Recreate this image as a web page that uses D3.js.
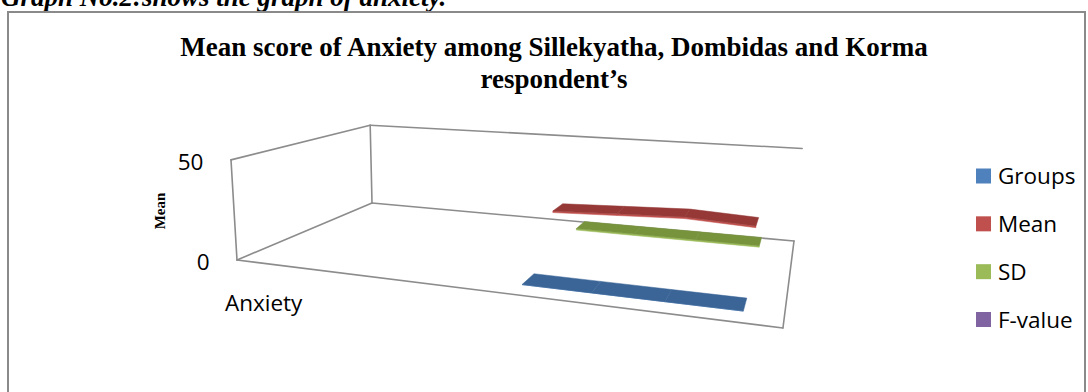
<!DOCTYPE html>
<html>
<head>
<meta charset="utf-8">
<script src="https://cdn.jsdelivr.net/npm/d3@7"></script>
<style>
  html, body { margin: 0; padding: 0; background: #fff; overflow: hidden; }
  svg { display: block; }
</style>
</head>
<body>
<svg id="chart" width="1088" height="392"></svg>
<script>
// ---- data ----
const categories = ["Anxiety", "", "", "", "", "", "", ""];
const seriesNames = ["Groups", "Mean", "SD", "F-value"];
const groupsValues = [null, null, null, null, 0, 0, 0, 0];
const meanValues = [null, null, null, null, 23.9, 25.2, 26.5, 25.1];
const sdValues = [null, null, null, null, 4.0, 4.0, 4.0, 4.0];
const fValues = [null, null, null, null, null, null, null, null];
const yTicks = [0, 50];
const yMax = 50;

const headingText = "Graph No.2:shows the graph of anxiety.";
const titleLines = ["Mean score of Anxiety among Sillekyatha, Dombidas and Korma", "respondent\u2019s"];
const yAxisTitle = "Mean";

// ---- styles ----
const seriesColors = ["#4F81BD", "#C0504D", "#9BBB59", "#8064A2"];
const ribbonColors = ["#3B6596", "#953836", "#77933C", "#5F497A"];
const calibriLike = "'Open Sans', 'Liberation Sans', sans-serif";
const serif = "'Liberation Serif', 'Times New Roman', serif";

const series = seriesNames.map((name, i) => ({
  name,
  values: [groupsValues, meanValues, sdValues, fValues][i],
  color: seriesColors[i],
  ribbon: ribbonColors[i]
}));

const svg = d3.select("#chart");

// ---- perspective camera: (u, z, t) in unit cube -> screen ----
// u: category direction, z: depth (series), t: value fraction of wall height
const cam = [
  [378.4, 246.4, -12.01, 237],
  [-2.2, 3.8, -104.3, 260],
  [-0.214, 0.2994, -0.026, 1]
];
function project(u, z, t) {
  const w = cam[2][0] * u + cam[2][1] * z + cam[2][2] * t + cam[2][3];
  return [
    (cam[0][0] * u + cam[0][1] * z + cam[0][2] * t + cam[0][3]) / w,
    (cam[1][0] * u + cam[1][1] * z + cam[1][2] * t + cam[1][3]) / w
  ];
}

// ---- scales ----
const xScale = d3.scalePoint()
  .domain(d3.range(categories.length))
  .range([0, 1])
  .padding(0.5);

// a 3D line needs at least two points to form a ribbon
const plotted = series.filter(s => s.values.filter(v => v != null).length >= 2);
const zScale = d3.scalePoint()
  .domain(plotted.map(s => s.name))
  .range([0, 1])
  .padding(0.5);

const yScale = d3.scaleLinear().domain([0, yMax]).range([0, 1]);

const ribbonHalfDepth = 0.063;
const ribbonThickness = 0.8; // value units

// ---- outer frame and headings ----
svg.append("text")
  .attr("x", 1)
  .attr("y", 6)
  .attr("font-family", serif)
  .attr("font-weight", "bold")
  .attr("font-style", "italic")
  .attr("font-size", 27)
  .attr("fill", "#000")
  .text(headingText);

svg.append("rect")
  .attr("x", 8)
  .attr("y", 12)
  .attr("width", 1077)
  .attr("height", 400)
  .attr("fill", "none")
  .attr("stroke", "#8a8a8a")
  .attr("stroke-width", 2);

const titleG = svg.append("g")
  .attr("font-family", serif)
  .attr("font-weight", "bold")
  .attr("font-size", 27)
  .attr("text-anchor", "middle")
  .attr("fill", "#000");
titleLines.forEach((line, i) => {
  titleG.append("text")
    .attr("x", 554)
    .attr("y", 56 + i * 32)
    .text(line);
});

// ---- walls and floor outline ----
const c = {
  FLB: project(0, 0, 0), FRB: project(1, 0, 0),
  BLB: project(0, 1, 0), BRB: project(1, 1, 0),
  FLT: project(0, 0, 1), BLT: project(0, 1, 1), BRT: project(1, 1, 1)
};
const edges = [
  ["FLB", "FLT"], ["FLT", "BLT"], ["BLT", "BLB"], ["BLB", "FLB"],
  ["BLT", "BRT"], ["BLB", "BRB"], ["FLB", "FRB"], ["FRB", "BRB"]
];
svg.append("g")
  .selectAll("line")
  .data(edges)
  .join("line")
  .attr("x1", d => c[d[0]][0]).attr("y1", d => c[d[0]][1])
  .attr("x2", d => c[d[1]][0]).attr("y2", d => c[d[1]][1])
  .attr("stroke", "#8c8c8c")
  .attr("stroke-width", 1.6)
  .attr("stroke-linecap", "round");

// ---- value axis labels ----
svg.append("g")
  .selectAll("text")
  .data(yTicks)
  .join("text")
  .attr("x", d => project(0, 0, yScale(d))[0] - 27.5)
  .attr("y", d => project(0, 0, yScale(d))[1] + 10)
  .attr("text-anchor", "end")
  .attr("font-family", calibriLike)
  .attr("font-size", 22.5)
  .attr("fill", "#000")
  .text(d => d);

svg.append("text")
  .attr("transform", "translate(160,211) rotate(-90)")
  .attr("text-anchor", "middle")
  .attr("dominant-baseline", "central")
  .attr("font-family", serif)
  .attr("font-weight", "bold")
  .attr("font-size", 15)
  .attr("fill", "#000")
  .text(yAxisTitle);

// ---- category labels ----
svg.append("g")
  .selectAll("text")
  .data(categories.map((name, i) => ({ name, i })).filter(d => d.name))
  .join("text")
  .attr("x", d => project(xScale(d.i), 0, 0)[0] - 0.5)
  .attr("y", d => project(xScale(d.i), 0, 0)[1] + 48)
  .attr("text-anchor", "middle")
  .attr("font-family", calibriLike)
  .attr("font-size", 22.5)
  .attr("fill", "#000")
  .text(d => d.name);

// ---- ribbons (drawn back to front) ----
const ribbonG = svg.append("g");
plotted.slice().reverse().forEach(s => {
  const zc = zScale(s.name);
  const zf = zc - ribbonHalfDepth, zb = zc + ribbonHalfDepth;
  const g = ribbonG.append("g");
  const segs = [];
  for (let i = 0; i < s.values.length - 1; i++) {
    const a = s.values[i], b = s.values[i + 1];
    if (a == null || b == null) continue;
    segs.push({ i0: i, i1: i + 1, a, b });
  }
  // front face (thickness)
  g.selectAll("path.front")
    .data(segs)
    .join("path")
    .attr("class", "front")
    .attr("fill", s.color)
    .attr("stroke", s.color)
    .attr("stroke-width", 0.5)
    .attr("d", d => {
      const u0 = xScale(d.i0), u1 = xScale(d.i1);
      const a0 = Math.max(0, d.a - ribbonThickness), b0 = Math.max(0, d.b - ribbonThickness);
      const pts = [
        project(u0, zf, yScale(d.a)), project(u1, zf, yScale(d.b)),
        project(u1, zf, yScale(b0)), project(u0, zf, yScale(a0))
      ];
      return "M" + pts.map(p => p.join(",")).join("L") + "Z";
    });
  // top face
  g.selectAll("path.top")
    .data(segs)
    .join("path")
    .attr("class", "top")
    .attr("fill", s.ribbon)
    .attr("stroke", s.ribbon)
    .attr("stroke-width", 0.5)
    .attr("stroke-linejoin", "round")
    .attr("d", d => {
      const u0 = xScale(d.i0), u1 = xScale(d.i1);
      const pts = [
        project(u0, zf, yScale(d.a)), project(u1, zf, yScale(d.b)),
        project(u1, zb, yScale(d.b)), project(u0, zb, yScale(d.a))
      ];
      return "M" + pts.map(p => p.join(",")).join("L") + "Z";
    });
});

// ---- legend ----
const legend = svg.append("g").attr("transform", "translate(976,0)");
const legendY = d3.scalePoint().domain(seriesNames).range([176, 319.5]);
const items = legend.selectAll("g")
  .data(series)
  .join("g")
  .attr("transform", d => `translate(0,${legendY(d.name)})`);
items.append("rect")
  .attr("x", 0).attr("y", -7.5)
  .attr("width", 15).attr("height", 15)
  .attr("fill", d => d.color);
items.append("text")
  .attr("x", 22)
  .attr("y", 8)
  .attr("font-family", calibriLike)
  .attr("font-size", 22.5)
  .attr("fill", "#000")
  .text(d => d.name);
</script>
</body>
</html>
